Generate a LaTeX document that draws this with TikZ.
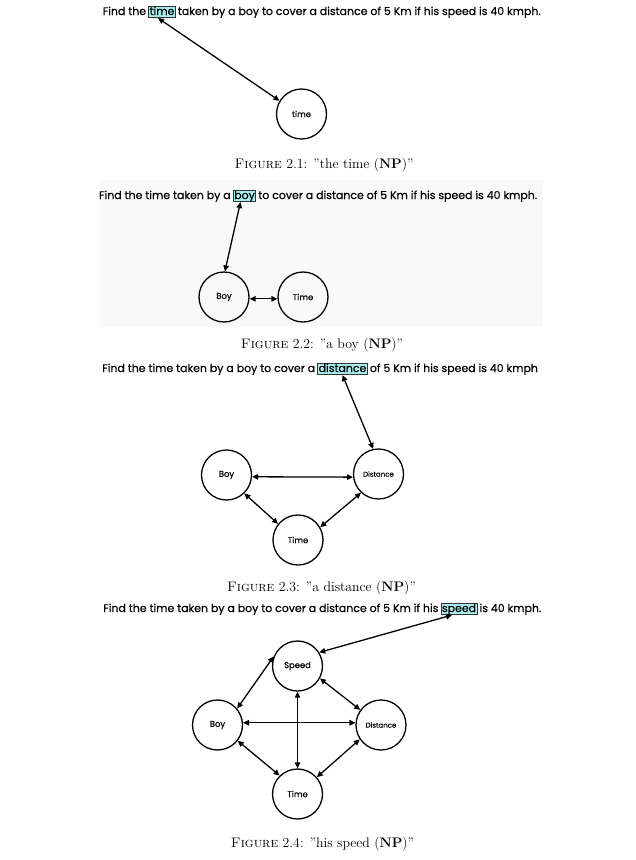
\documentclass[tikz,border=0pt]{standalone}
\usepackage{fontspec}
\newfontfamily\pop{Poppins}[FakeBold=0.4]
\usetikzlibrary{arrows.meta}
\definecolor{hlfill}{HTML}{A8EEEE}
\definecolor{panelbg}{HTML}{F9F9F9}
\tikzset{
  sent/.style={inner sep=0pt, font=\pop\fontsize{10.95}{12}\selectfont},
  hlbox/.style={draw=black!80, fill=hlfill, line width=0.7pt, inner xsep=1pt, inner ysep=1.2pt,
    text height=7.8pt, text depth=1.5pt, font=\pop\fontsize{10.95}{12}\selectfont},
  vert/.style={circle, draw, line width=1.3pt, minimum size=50pt, inner sep=0pt,
    font=\pop\fontsize{8.4}{9}\selectfont},
  smalllabel/.style={font=\pop\fontsize{7}{8}\selectfont},
  link/.style={<->, >={Triangle[length=6pt,width=5.5pt]}, line width=1.3pt},
  figcap/.style={font=\fontsize{13.8}{16}\selectfont, inner sep=0pt, anchor=base},
}
\begin{document}
\begin{tikzpicture}[x=1pt,y=-1pt]
\fill[white] (0,0) rectangle (636,860);
\useasboundingbox (0,0) rectangle (636,860);
% ---------- panel 1
\node[hlbox, anchor=base] (h1) at (162,15) {time};
\node[sent, anchor=base east] (s1a) at ([xshift=-2pt]h1.base west) {Find the};
\node[sent, anchor=base west] (s1b) at ([xshift=2pt]h1.base east) {taken by a boy to cover a distance of 5 Km if his speed is 40 kmph.};
\node[vert] (t1) at (301.5,114) {time};
\draw[link] ([xshift=-4pt]h1.south) -- (t1.149);
\node[figcap] (c1) at (324,168) {\textsc{Figure} 2.1: "the time (\textbf{NP})''};
% ---------- panel 2
\fill[panelbg] (100,180) rectangle (543,327);
\node[hlbox, anchor=base] (h2) at (244.5,199) {boy};
\node[sent, anchor=base east] (s2a) at ([xshift=-2pt]h2.base west) {Find the time taken by a};
\node[sent, anchor=base west] (s2b) at ([xshift=2pt]h2.base east) {to cover a distance of 5 Km if his speed is 40 kmph.};
\node[vert] (b2) at (224,297) {Boy};
\node[vert] (t2) at (303,297) {Time};
\draw[link] ([xshift=-4pt]h2.south) -- (b2.88);
\draw[link] (b2.-4) -- (t2.184);
\node[figcap] (c2) at (322,348) {\textsc{Figure} 2.2: "a boy (\textbf{NP})''};
% ---------- panel 3
\node[hlbox, anchor=base] (h3) at (342.5,372) {distance};
\node[sent, anchor=base east] (s3a) at ([xshift=-2pt]h3.base west) {Find the time taken by a boy to cover a};
\node[sent, anchor=base west] (s3b) at ([xshift=2pt]h3.base east) {of 5 Km if his speed is 40 kmph};
\node[vert] (b3) at (226.5,475) {Boy};
\node[vert, smalllabel] (d3) at (378.5,474) {Distance};
\node[vert] (t3) at (298,540) {Time};
\draw[link] (h3.south) -- (d3.102);
\draw[link] (b3.-4) -- (d3.187);
\draw[link] (b3.314) -- (t3.141);
\draw[link] (d3.227) -- (t3.30);
\node[figcap] (c3) at (321.5,591) {\textsc{Figure} 2.3: "a distance (\textbf{NP})''};
% ---------- panel 4
\node[hlbox, anchor=base] (h4) at (459,612) {speed};
\node[sent, anchor=base east] (s4a) at ([xshift=-2pt]h4.base west) {Find the time taken by a boy to cover a distance of 5 Km if his};
\node[sent, anchor=base west] (s4b) at ([xshift=2pt]h4.base east) {is 40 kmph.};
\node[vert] (sp4) at (297.5,666) {Speed};
\node[vert] (b4) at (217.5,725) {Boy};
\node[vert, smalllabel] (d4) at (381,725) {Distance};
\node[vert] (t4) at (297.5,794) {Time};
\draw[link] ([xshift=-7pt]h4.south) -- (sp4.32);
\draw[link] (sp4.158) -- (b4.40);
\draw[link] (sp4.331) -- (d4.144);
\draw[link] (sp4.south) -- (t4.north);
\draw[link] (b4.5) -- (d4.175);
\draw[link] (b4.322) -- (t4.134);
\draw[link] (d4.214) -- (t4.41);
\node[figcap] (c4) at (322.5,847) {\textsc{Figure} 2.4: "his speed (\textbf{NP})''};
\end{tikzpicture}
\end{document}
